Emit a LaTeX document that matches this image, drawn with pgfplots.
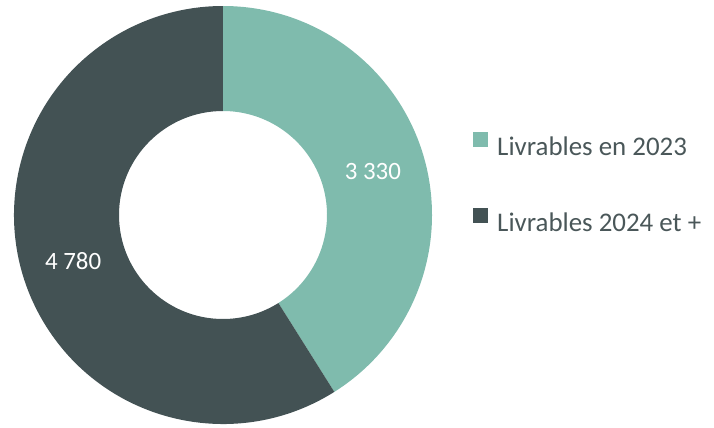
\documentclass[border=0pt]{standalone}
\usepackage{fontspec}
\setmainfont{Carlito}
\usepackage{pgfplots}
\usepackage{pgfplotstable}
\pgfplotsset{compat=1.18}
\definecolor{cA}{HTML}{7FBBAD}
\definecolor{cB}{HTML}{435254}
\definecolor{txt}{HTML}{4A5759}
\pgfplotstableread{
label value
a 3330
b 4780
}\data
\begin{document}
\begin{tikzpicture}
\pgfplotstablegetelem{0}{value}\of\data \let\va\pgfplotsretval
\pgfplotstablegetelem{1}{value}\of\data \let\vb\pgfplotsretval
\pgfmathsetmacro\tot{\va+\vb}
\pgfmathsetmacro\fA{\va/\tot}
\pgfmathsetmacro\fB{\vb/\tot}
\pgfmathsetmacro\aA{90-360*\fA}
\pgfmathsetmacro\aB{\aA-360*\fB}
\pgfmathsetmacro\mA{(90+\aA)/2}
\pgfmathsetmacro\mB{(\aA+\aB)/2}
\begin{axis}[x=1bp,y=1bp,xmin=0,xmax=714,ymin=0,ymax=427,
  hide axis, clip=false, scale only axis,
  legend image code/.code={\fill[#1] (0bp,0bp) rectangle (15bp,15bp);},
  legend cell align=left,
  legend style={at={(axis cs:473,295)}, anchor=north west, draw=none, fill=none,
    font=\fontsize{27}{32}\selectfont, text=txt, row sep=51bp,
    nodes={inner sep=0pt}, column sep=9bp, inner sep=0pt}]
\coordinate (ll) at (axis cs:0,0);
\coordinate (ur) at (axis cs:714,427);
\addlegendimage{fill=cA, draw=none}
\addlegendentry{Livrables en 2023}
\addlegendimage{fill=cB, draw=none}
\addlegendentry{Livrables 2024 et +}
\fill[cA] ([shift={(90:209bp)}]axis cs:223,212) arc[start angle=90,end angle=\aA,radius=209bp]
  -- ([shift={(\aA:104bp)}]axis cs:223,212) arc[start angle=\aA,end angle=90,radius=104bp] -- cycle;
\fill[cB] ([shift={(\aA:209bp)}]axis cs:223,212) arc[start angle=\aA,end angle=\aB,radius=209bp]
  -- ([shift={(\aB:104bp)}]axis cs:223,212) arc[start angle=\aB,end angle=\aA,radius=104bp] -- cycle;
\node[text=white, font=\fontsize{25}{30}\selectfont] at ([shift={(\mA:156bp)}]axis cs:223,212) {3 330};
\node[text=white, font=\fontsize{25}{30}\selectfont, yshift=-3bp] at ([shift={(\mB:156bp)}]axis cs:223,212) {4 780};
\end{axis}
\pgfresetboundingbox
\path (ll) rectangle (ur);
\end{tikzpicture}
\end{document}
